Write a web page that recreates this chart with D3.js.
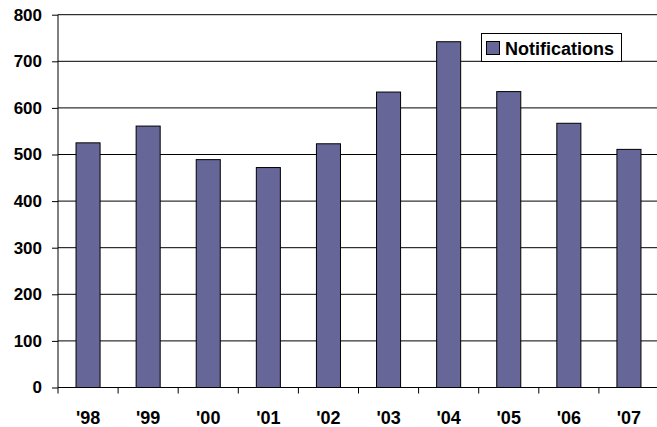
<!DOCTYPE html>
<html><head><meta charset="utf-8">
<script src="https://cdn.jsdelivr.net/npm/d3@7"></script>
<style>body{margin:0;background:#fff}svg{display:block}text{font-family:Arial,"Liberation Sans",sans-serif;font-weight:bold;fill:#000}</style>
</head><body><svg id="c" width="657" height="427"></svg>
<script>
const categories = ["'98","'99","'00","'01","'02","'03","'04","'05","'06","'07"];
const notifications = [525, 561, 489, 472, 523, 634, 742, 635, 567, 511];
const yTicks = [0,100,200,300,400,500,600,700,800];
const seriesName = "Notifications";

const svg = d3.select("#c");
const mLeft = 58, mRight = 659, mTop = 14.7, mBottom = 387.5;
const x = d3.scaleBand().domain(categories).range([mLeft, mRight]).paddingInner(0.6).paddingOuter(0.3);
const xb = d3.scaleBand().domain(categories).range([mLeft, mRight]);
const y = d3.scaleLinear().domain([0, 800]).range([mBottom, mTop]);

// gridlines
svg.append("g").selectAll("line").data(yTicks.filter(d=>d>0)).join("line")
  .attr("x1", mLeft).attr("x2", mRight).attr("y1", d=>y(d)).attr("y2", d=>y(d))
  .attr("stroke", "#000").attr("stroke-width", 1);

// bars
svg.append("g").selectAll("rect").data(notifications).join("rect")
  .attr("x", (d,i)=>x(categories[i])).attr("width", x.bandwidth())
  .attr("y", d=>y(d)).attr("height", d=>y(0)-y(d))
  .attr("fill", "#666699").attr("stroke", "#000").attr("stroke-width", 1);

// y axis
const ya = svg.append("g").attr("transform", `translate(${mLeft},0)`)
  .call(d3.axisLeft(y).tickValues(yTicks).tickSize(6).tickPadding(10).tickFormat(d3.format("d")));
ya.select(".domain").attr("stroke","#000").attr("d", `M0,${mTop}V${mBottom}`);
ya.selectAll(".tick line").attr("stroke","#000");
ya.selectAll("text").style("font-size","17px").style("font-weight","bold").style("font-family","Arial, 'Liberation Sans', sans-serif").attr("fill","#000");

// x axis
const xa = svg.append("g").attr("transform", `translate(0,${mBottom})`);
xa.append("line").attr("x1", mLeft).attr("x2", mRight).attr("stroke","#000");
xa.selectAll("line.t").data(categories).join("line").attr("class","t")
  .attr("x1", d=>xb(d)).attr("x2", d=>xb(d)).attr("y1",0).attr("y2",6).attr("stroke","#000");
xa.selectAll("text").data(categories).join("text")
  .attr("x", d=>xb(d)+xb.bandwidth()/2).attr("y", 36)
  .attr("text-anchor","middle").style("font-size","18px").text(d=>d);

// legend
const lg = svg.append("g");
lg.append("rect").attr("x",481.5).attr("y",33.5).attr("width",140).attr("height",28)
  .attr("fill","#fff").attr("stroke","#000");
lg.append("rect").attr("x",486.5).attr("y",41.5).attr("width",13).attr("height",13)
  .attr("fill","#666699").attr("stroke","#000");
lg.append("text").attr("x",505).attr("y",55).style("font-size","18px").text(seriesName);
</script></body></html>
